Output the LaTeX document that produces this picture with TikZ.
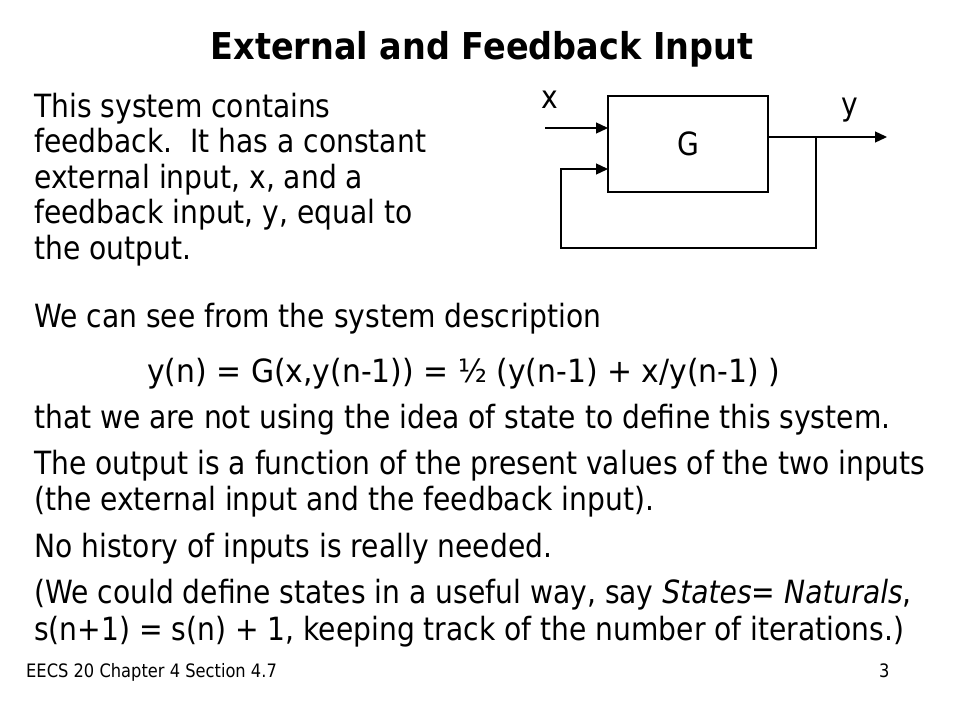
\documentclass[tikz,border=0pt]{standalone}
\usepackage{fontspec}
\setmainfont{DejaVu Sans}[FakeStretch=0.88, BoldFeatures={FakeStretch=0.905}]
\usetikzlibrary{arrows.meta}
\tikzset{
  txt/.style={anchor=base west, inner sep=0pt, font=\fontsize{32}{36}\selectfont},
  lbl/.style={inner sep=0pt, font=\fontsize{32}{36}\selectfont},
  foottxt/.style={anchor=base west, inner sep=0pt, font=\fontsize{18.5}{20}\selectfont},
  wire/.style={line width=1.3pt},
  arr/.style={wire, -{Triangle[length=12pt,width=11pt]}},
}
\begin{document}
\begin{tikzpicture}[x=1pt,y=-1pt]
\useasboundingbox (0,0) rectangle (960,720);
\fill[white] (0,0) rectangle (960,720);
% title
\node[anchor=base, inner sep=0pt, font=\fontsize{37}{40}\selectfont\bfseries] (title) at (482,59) {External and Feedback Input};
% left paragraph
\node[txt] (l1) at (34,117) {This system contains};
\node[txt] (l2) at (34,152.5) {feedback.\ \ It has a constant};
\node[txt] (l3) at (34,188) {external input, x, and a};
\node[txt] (l4) at (34,223.5) {feedback input, y, equal to};
\node[txt] (l5) at (34,259) {the output.};
% diagram
\node[draw, wire, minimum width=160pt, minimum height=96pt, inner sep=0pt, font=\fontsize{32}{36}\selectfont] (G) at (688,144) {G};
\coordinate (xin) at (545,128);
\coordinate (gin1) at (608,128);
\coordinate (gout) at (768,137);
\coordinate (tap) at (816,137);
\coordinate (yout) at (887,137);
\coordinate (fb1) at (816,248);
\coordinate (fb2) at (561,248);
\coordinate (fb3) at (561,169);
\coordinate (gin2) at (608,169);
\draw[arr] (xin) -- (gin1);
\draw[arr] (gout) -- (yout);
\draw[arr] (tap) -- (fb1) -- (fb2) -- (fb3) -- (gin2);
\node[lbl] (xl) at (550,100) {x};
\node[lbl] (yl) at (850,110) {y};
% body
\node[txt] (b1) at (34,327) {We can see from the system description};
\node[txt] (b2) at (147,382) {\resizebox{633pt}{\height}{y(n) = G(x,y(n-1)) = ½ (y(n-1) + x/y(n-1) )}};
\node[txt] (b3) at (34,428) {that we are not using the idea of state to define this system.};
\node[txt] (b4) at (34,474) {The output is a function of the present values of the two inputs};
\node[txt] (b5) at (34,510) {(the external input and the feedback input).};
\node[txt] (b6) at (34,557) {No history of inputs is really needed.};
\node[txt] (b7) at (34,603) {(We could define states in a useful way, say \textit{States}= \textit{Naturals},};
\node[txt] (b8) at (34,640) {s(n+1) = s(n) + 1, keeping track of the number of iterations.)};
% footer
\node[foottxt] (foot) at (26,677) {EECS 20 Chapter 4 Section 4.7};
\node[foottxt] (page) at (879,677) {3};
\end{tikzpicture}
\end{document}
